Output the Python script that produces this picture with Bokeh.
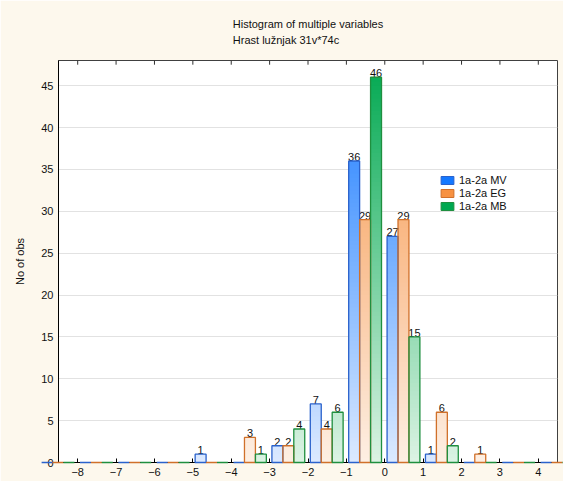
from bokeh.plotting import figure
from bokeh.models import FixedTicker, Range1d, Title, Legend, LegendItem
from bokeh.core.properties import value
from bokeh.embed import file_html
from bokeh.resources import INLINE

# ---- data (bins of width 1, left edges) ----
bin_left = [-9, -8, -7, -6, -5, -4, -3, -2, -1, 0, 1, 2, 3, 4]
mv = [0, 0, 0, 0, 1, 0, 2, 7, 36, 27, 1, 0, 0, 0]
eg = [0, 0, 0, 0, 0, 3, 2, 4, 29, 29, 6, 1, 0, 0]
mb = [0, 0, 0, 0, 0, 1, 4, 6, 46, 15, 2, 0, 0, 0]
series_names = ["1a-2a MV", "1a-2a EG", "1a-2a MB"]
x_ticks = [-8, -7, -6, -5, -4, -3, -2, -1, 0, 1, 2, 3, 4]
y_ticks = [0, 5, 10, 15, 20, 25, 30, 35, 40, 45]

title1 = "Histogram of multiple variables"
title2 = "Hrast lužnjak 31v*74c"
y_label = "No of obs"

X_MIN, X_MAX = -8.5, 4.5
Y_MIN, Y_MAX = 0, 48

full_cols = [(20, 120, 255), (247, 145, 65), (0, 168, 80)]
light_cols = [(220, 234, 255), (253, 239, 228), (220, 243, 228)]
line_cols = ["#2a62cc", "#d0702a", "#1f8f3f"]

FONT = "Liberation Sans"
BAR_W = 0.285
BAR_OFF = 0.06
NAN = float("nan")

p = figure(width=563, height=481, output_backend="svg", toolbar_location=None,
           title=None,
           x_range=Range1d(X_MIN, X_MAX), y_range=Range1d(Y_MIN, Y_MAX),
           min_border_left=58, min_border_right=6, min_border_top=60, min_border_bottom=19)

p.background_fill_color = "white"
p.border_fill_color = "#fdf8ed"
p.outline_line_color = "#404040"
p.xgrid.visible = False
p.ygrid.grid_line_color = "#e2e2e2"
p.ygrid.ticker = FixedTicker(ticks=y_ticks)

def lerp(a, b, t):
    t = max(0.0, min(1.0, t))
    return "#%02x%02x%02x" % tuple(int(round(a[i] + (b[i] - a[i]) * t)) for i in range(3))

leg_renderers = []
label_x, label_y, label_t = [], [], []
for k, vals in enumerate([mv, eg, mb]):
    bl, br, bb, bt, bc = [], [], [], [], []
    ol, orr, ot = [], [], []
    for edge, v in zip(bin_left, vals):
        left = edge + BAR_OFF + BAR_W * k
        right = left + BAR_W
        ol.append(left); orr.append(right); ot.append(v)
        y0 = 0.0
        while y0 < v - 1e-9:
            y1 = min(v, y0 + 0.5)
            bl.append(left); br.append(right); bb.append(y0); bt.append(min(v, y1 + 0.3))
            bc.append(lerp(light_cols[k], full_cols[k], ((y0 + y1) / 2) / Y_MAX))
            y0 = y1
        if v > 0:
            label_x.append((left + right) / 2); label_y.append(v); label_t.append(str(v))
    p.quad(left=bl, right=br, bottom=bb, top=bt, fill_color=bc, line_color=None)
    p.quad(left=ol, right=orr, bottom=[0] * len(ot), top=ot, fill_color=None,
           line_color=line_cols[k], line_width=1.3, level="overlay")
    leg_renderers.append(p.quad(left=[NAN], right=[NAN], bottom=[NAN], top=[NAN],
                                fill_color=lerp(light_cols[k], full_cols[k], 1.0),
                                line_color=line_cols[k], line_width=1))

p.text(x=label_x, y=label_y, text=label_t, text_align="center", text_baseline="bottom",
       text_font=value(FONT), text_font_size="11px", text_color="#111111")

# ticks along the top edge, pointing inward
p.segment(x0=x_ticks, x1=x_ticks, y0=[Y_MAX] * len(x_ticks), y1=[Y_MAX - 0.5] * len(x_ticks),
          line_color="#303030", line_width=1)

# axes
p.xaxis.ticker = FixedTicker(ticks=x_ticks)
p.yaxis.ticker = FixedTicker(ticks=y_ticks)
for ax in (p.xaxis[0], p.yaxis[0]):
    ax.major_label_text_font = FONT
    ax.major_label_text_font_size = "11px"
    ax.major_label_text_color = "#111111"
    ax.axis_line_color = "black"
    ax.major_tick_in = 4
    ax.major_tick_out = 0
    ax.major_tick_line_color = "black"
    ax.minor_tick_line_color = None
    ax.major_label_standoff = 5
p.yaxis.axis_label = y_label
p.yaxis.axis_label_text_font = FONT
p.yaxis.axis_label_text_font_size = "11px"
p.yaxis.axis_label_text_font_style = "normal"
p.yaxis.axis_label_text_color = "#111111"
p.yaxis.axis_label_standoff = 12
p.yaxis.major_tick_line_color = None

p.add_layout(Title(text=title1 + "\n" + title2, align="center", vertical_align="middle",
                   text_font=FONT, text_font_size="11px", text_font_style="normal",
                   text_color="#111111", text_line_height=1.4, standoff=26), "above")

legend = Legend(items=[LegendItem(label=series_names[i], renderers=[leg_renderers[i]]) for i in range(3)],
                location=(381, 250), border_line_color=None, background_fill_alpha=0,
                padding=2, margin=0, spacing=0, glyph_width=16, glyph_height=10,
                label_height=13, label_standoff=4, label_text_font=FONT,
                label_text_font_size="11px", label_text_color="#111111")
p.add_layout(legend)

open("out.html", "w").write(file_html(p, INLINE))
